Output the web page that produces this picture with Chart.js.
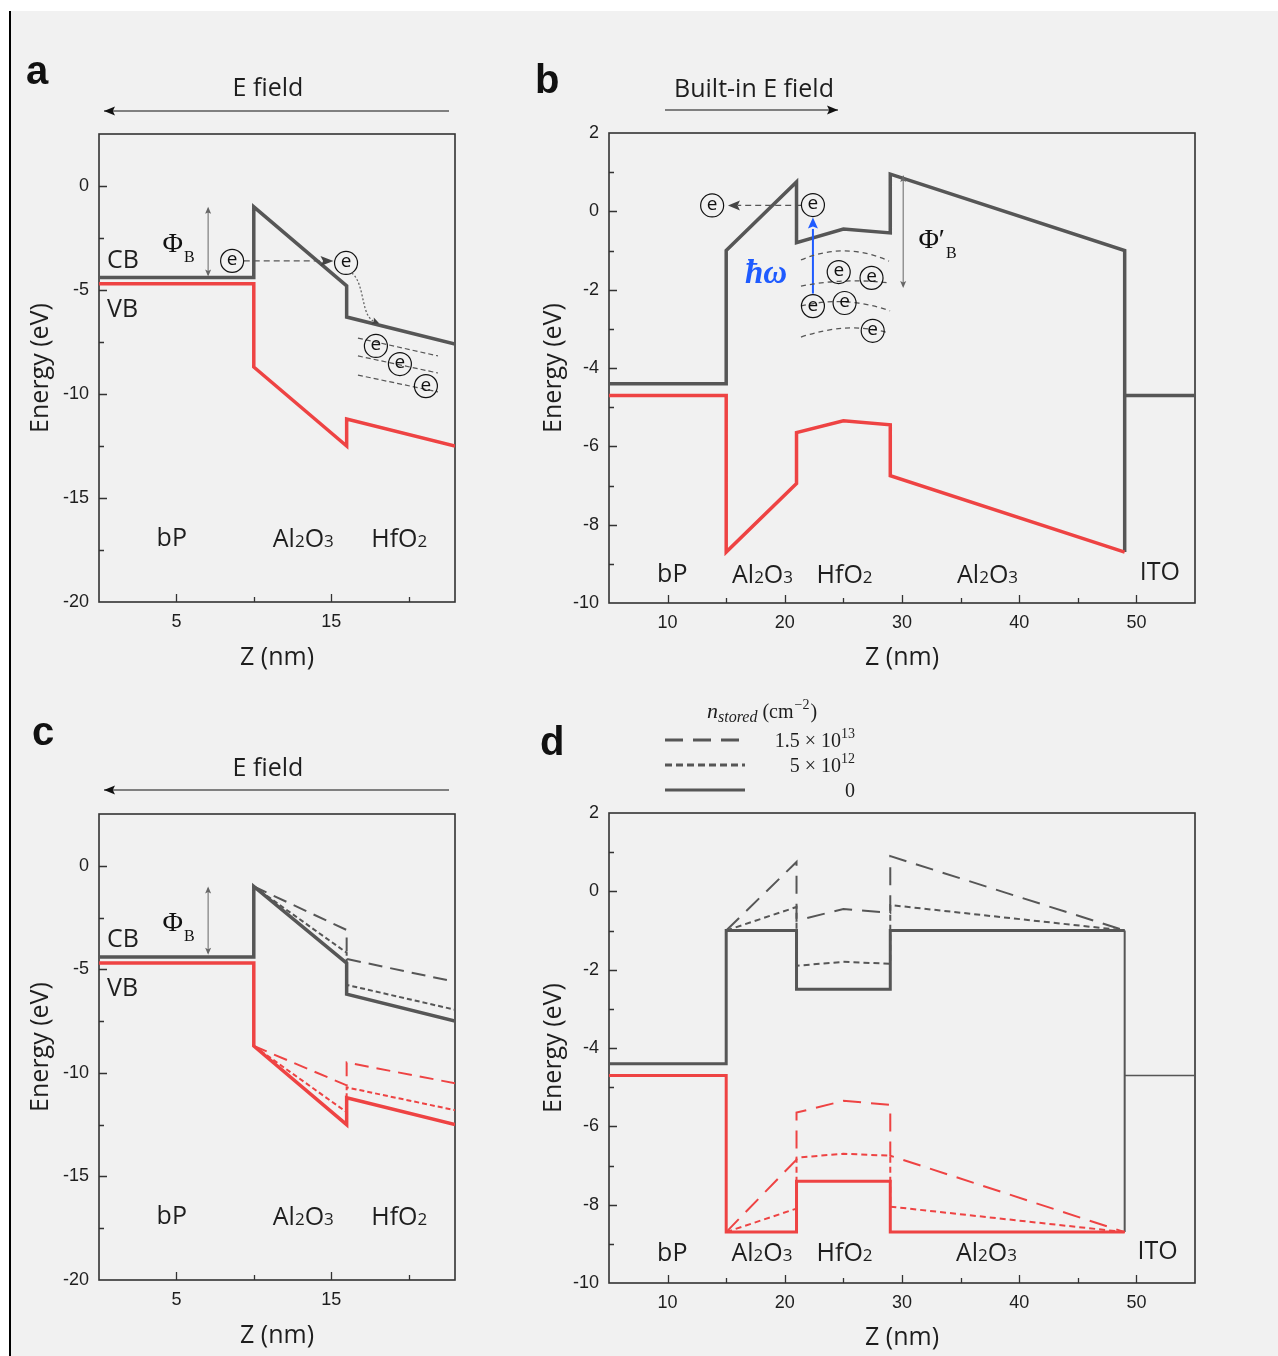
<!DOCTYPE html>
<html>
<head>
<meta charset="utf-8">
<script src="https://cdn.jsdelivr.net/npm/chart.js@4.4.1/dist/chart.umd.min.js"></script>
<style>
  body { margin: 0; background: #fff; }
  #fig { position: relative; width: 1278px; height: 1356px; overflow: hidden; }
  #bg { position: absolute; left: 11px; top: 11px; right: 0; bottom: 0; background: #f1f1f1; }
  #bar { position: absolute; left: 9px; top: 11px; width: 2px; bottom: 0; background: #000; }
  canvas { position: absolute; }
</style>
</head>
<body>
<div id="fig">
  <div id="bg"></div><div id="bar"></div>
  <canvas id="ca" width="450" height="660" style="left:20px;top:20px"></canvas>
  <canvas id="cb" width="680" height="660" style="left:530px;top:20px"></canvas>
  <canvas id="cc" width="450" height="666" style="left:20px;top:690px"></canvas>
  <canvas id="cd" width="680" height="666" style="left:530px;top:690px"></canvas>
</div>
<script>
// ---- data (Z in nm, energy in eV) ----
// a: bP / Al2O3 / HfO2 under applied field
const zA = [0, 10, 10, 16, 16, 23];
const cbA = [-4.4, -4.4, -1.0, -4.8, -6.3, -7.6];
const vbA = [-4.7, -4.7, -8.7, -12.5, -11.2, -12.5];

// c: same stack, with stored charge
const cbC0 = [-4.4, -4.4, -1.0, -4.7, -6.2, -7.5];
const vbC0 = [-4.7, -4.7, -8.7, -12.5, -11.2, -12.5];
const zCq = [10, 16, 16, 23];
const cbC1 = [-1.0, -3.1, -4.5, -5.6];
const cbC2 = [-1.0, -4.2, -5.75, -6.95];
const vbC1 = [-8.7, -10.6, -9.5, -10.5];
const vbC2 = [-8.7, -11.9, -10.7, -11.8];

// b: bP / Al2O3 / HfO2 / Al2O3 / ITO, built-in field
const zBcb = [5, 15, 15, 21, 21, 25, 29, 29, 49, 49];
const cbB = [-4.4, -4.4, -1.0, 0.75, -0.8, -0.45, -0.55, 0.95, -1.0, -8.7];
const zBvb = [5, 15, 15, 21, 21, 25, 29, 29, 49];
const vbB = [-4.7, -4.7, -8.7, -6.95, -5.65, -5.35, -5.45, -6.75, -8.7];
const zIto = [49, 55];
const eIto = [-4.7, -4.7];

// d: flat-band vs stored charge density
const zD0 = [5, 15, 15, 21, 21, 29, 29, 49];
const cbD0 = [-4.4, -4.4, -1.0, -1.0, -2.5, -2.5, -1.0, -1.0];
const vbD0 = [-4.7, -4.7, -8.7, -8.7, -7.4, -7.4, -8.7, -8.7];
const zDq = [15, 21, 21, 25, 29, 29, 49];
const cbD1 = [-1.0, 0.75, -0.75, -0.45, -0.55, 0.9, -1.0];
const cbD2 = [-1.0, -0.4, -1.9, -1.8, -1.85, -0.35, -1.0];
const vbD1 = [-8.7, -6.85, -5.65, -5.35, -5.45, -6.75, -8.7];
const vbD2 = [-8.7, -8.1, -6.8, -6.7, -6.75, -8.05, -8.7];
const zDedge = [49, 49];
const eDedge = [-1.0, -8.7];

const nLabels = ['1.5 × 10', '5 × 10', '0'];
const nExp = ['13', '12', ''];

// tick labels
const ticksAx = [5, 15];
const ticksAy = [0, -5, -10, -15, -20];
const ticksBx = [10, 20, 30, 40, 50];
const ticksBy = [2, 0, -2, -4, -6, -8, -10];

const GRAY = '#565656', RED = '#ee4343', TXT = '#1e1e1e';
const SANS = '"Open Sans", "DejaVu Sans", sans-serif';
const SERIF = '"Liberation Serif", "DejaVu Serif", serif';

function ds(z, e, color, width, dash) {
  return {
    data: z.map((v, i) => ({ x: v, y: e[i] })),
    borderColor: color, borderWidth: width, borderDash: dash || [],
    pointRadius: 0, tension: 0, fill: false,
    borderCapStyle: 'butt', borderJoinStyle: 'miter'
  };
}

// box + inward ticks
const frame = {
  id: 'frame',
  beforeDatasetsDraw(chart) {
    const { ctx, chartArea: a, scales: { x, y } } = chart;
    ctx.save();
    ctx.strokeStyle = '#333';
    ctx.lineWidth = 1.6;
    ctx.strokeRect(a.left, a.top, a.right - a.left, a.bottom - a.top);
    ctx.lineWidth = 1.3;
    ctx.beginPath();
    x.ticks.forEach(t => {
      if (t.value <= x.min || t.value >= x.max) return;
      const p = Math.round(x.getPixelForValue(t.value)) + 0.5, L = t.label ? 8 : 5;
      ctx.moveTo(p, a.bottom); ctx.lineTo(p, a.bottom - L);
    });
    y.ticks.forEach(t => {
      if (t.value <= y.min || t.value >= y.max) return;
      const p = Math.round(y.getPixelForValue(t.value)) + 0.5, L = t.label ? 8 : 5;
      ctx.moveTo(a.left, p); ctx.lineTo(a.left + L, p);
    });
    ctx.stroke();
    ctx.restore();
  }
};

function makeChart(id, sets, o, ann) {
  new Chart(document.getElementById(id), {
    type: 'line',
    data: { datasets: sets },
    options: {
      responsive: false, animation: false,
      layout: { padding: { top: o.pt, right: 15, left: 0, bottom: 0 } },
      plugins: { legend: { display: false }, tooltip: { enabled: false } },
      scales: {
        x: {
          type: 'linear', min: o.xmin, max: o.xmax,
          grid: { display: false, drawTicks: false }, border: { display: false },
          ticks: {
            stepSize: o.xstep, autoSkip: false, includeBounds: false, maxRotation: 0, padding: 9,
            color: TXT, font: { family: '"Liberation Sans", Arial, sans-serif', size: 18 },
            callback: v => o.xlab.includes(v) ? String(v) : ''
          },
          title: { display: true, text: 'Z (nm)', color: TXT, font: { family: SANS, size: 25 }, padding: { top: 0, bottom: o.xtp } },
          afterFit: s => { s.height = o.xh; }
        },
        y: {
          type: 'linear', min: o.ymin, max: o.ymax,
          grid: { display: false, drawTicks: false }, border: { display: false },
          ticks: {
            stepSize: o.ystep, autoSkip: false, includeBounds: false, padding: 10,
            color: TXT, font: { family: '"Liberation Sans", Arial, sans-serif', size: 18 },
            callback: v => o.ylab.includes(v) ? String(v) : ''
          },
          title: { display: true, text: 'Energy (eV)', color: TXT, font: { family: SANS, size: 25 }, padding: { top: o.ytp, bottom: 0 } },
          afterFit: s => { s.width = 79; }
        }
      }
    },
    plugins: [frame, { id: 'ann', afterDatasetsDraw: ann }]
  });
}

// ---- drawing helpers ----
function tools(ch) {
  const X = v => ch.scales.x.getPixelForValue(v);
  const Y = v => ch.scales.y.getPixelForValue(v);
  const ox = ch.canvas.offsetLeft, oy = ch.canvas.offsetTop;
  return { ctx: ch.ctx, X, Y, px: v => v - ox, py: v => v - oy };
}
function head(ctx, x, y, ang, len, hw, color) {
  const c = Math.cos(ang), s = Math.sin(ang);
  ctx.save();
  ctx.fillStyle = color;
  ctx.beginPath();
  ctx.moveTo(x, y);
  ctx.lineTo(x - len * c - hw * s, y - len * s + hw * c);
  ctx.lineTo(x - len * c * 0.8, y - len * s * 0.8);
  ctx.lineTo(x - len * c + hw * s, y - len * s - hw * c);
  ctx.closePath();
  ctx.fill();
  ctx.restore();
}
function eCirc(ctx, x, y) {
  ctx.save();
  ctx.strokeStyle = '#111'; ctx.lineWidth = 1.2;
  ctx.beginPath(); ctx.arc(x, y, 11.5, 0, Math.PI * 2); ctx.stroke();
  ctx.fillStyle = '#111'; ctx.font = '19px ' + SANS;
  ctx.textAlign = 'center'; ctx.textBaseline = 'middle';
  ctx.fillText('e', x, y - 1);
  ctx.restore();
}
function chem(ctx, cx, y, text) {
  const parts = text.match(/[A-Za-z]+|\d+/g).map(p => [p, /\d/.test(p) ? 17 : 25]);
  ctx.save();
  let w = 0;
  parts.forEach(([t, s]) => { ctx.font = s + 'px ' + SANS; w += ctx.measureText(t).width; });
  let x = cx - w / 2;
  ctx.fillStyle = TXT; ctx.textAlign = 'left'; ctx.textBaseline = 'alphabetic';
  parts.forEach(([t, s]) => { ctx.font = s + 'px ' + SANS; ctx.fillText(t, x, y); x += ctx.measureText(t).width; });
  ctx.restore();
}
function text(ctx, s, x, y, font, align, color) {
  ctx.save();
  ctx.font = font; ctx.fillStyle = color || TXT;
  ctx.textAlign = align || 'left'; ctx.textBaseline = 'alphabetic';
  ctx.fillText(s, x, y);
  ctx.restore();
}
function line(ctx, pts, color, width, dash) {
  ctx.save();
  ctx.strokeStyle = color; ctx.lineWidth = width; ctx.setLineDash(dash || []);
  ctx.beginPath();
  pts.forEach((p, i) => i ? ctx.lineTo(p[0], p[1]) : ctx.moveTo(p[0], p[1]));
  ctx.stroke();
  ctx.restore();
}
function curve(ctx, a, m, b, color, dash) {
  // quadratic through a, m, b
  const cx = 2 * m[0] - (a[0] + b[0]) / 2, cy = 2 * m[1] - (a[1] + b[1]) / 2;
  ctx.save();
  ctx.strokeStyle = color; ctx.lineWidth = 1.3; ctx.setLineDash(dash);
  ctx.beginPath(); ctx.moveTo(a[0], a[1]); ctx.quadraticCurveTo(cx, cy, b[0], b[1]); ctx.stroke();
  ctx.restore();
}
function dbl(ctx, x, y1, y2) {
  line(ctx, [[x, y1 + 2], [x, y2 - 2]], '#666', 1);
  head(ctx, x, y1, -Math.PI / 2, 7, 3, '#666');
  head(ctx, x, y2, Math.PI / 2, 7, 3, '#666');
}
function header(t, letter, lx, ly, title, tx, ty, x1, x2, ay) {
  const { ctx, px, py } = t;
  text(ctx, letter, px(lx), py(ly), 'bold 40px "Liberation Sans", Arial, sans-serif', 'left', '#111');
  if (title) {
    text(ctx, title, px(tx), py(ty), '25px ' + SANS, 'center');
    line(ctx, [[px(x1), py(ay)], [px(x2), py(ay)]], '#111', 1.2);
    head(ctx, px(x2), py(ay), x2 < x1 ? Math.PI : 0, 11, 4.5, '#111');
  }
}
function phiB(t, z, e, prime) {
  const { ctx, X, Y } = t;
  ctx.save();
  ctx.font = '28px ' + SERIF; ctx.fillStyle = '#111'; ctx.textAlign = 'left';
  const s = prime ? 'Φ′' : 'Φ';
  ctx.fillText(s, X(z), Y(e));
  const w = ctx.measureText(s).width;
  ctx.font = '16px ' + SERIF;
  ctx.fillText('B', X(z) + w + 1, Y(e) + 10);
  ctx.restore();
}

// ---- panel annotations ----
function annA(ch) {
  const t = tools(ch), { ctx, X, Y } = t;
  header(t, 'a', 26, 84, 'E field', 268, 96, 449, 104, 111);
  text(ctx, 'CB', X(0.52), Y(-3.94), '25px ' + SANS);
  text(ctx, 'VB', X(0.52), Y(-6.3), '25px ' + SANS);
  phiB(t, 4.1, -3.15);
  dbl(ctx, X(7.05), Y(-1.0), Y(-4.35));
  // tunnelling electron
  line(ctx, [[X(9.35), Y(-3.6)], [X(14.5), Y(-3.6)]], '#555', 1.2, [6, 4]);
  head(ctx, X(15.15), Y(-3.6), 0, 13, 5, '#444');
  eCirc(ctx, X(8.6), Y(-3.6));
  eCirc(ctx, X(15.96), Y(-3.7));
  ctx.save();
  ctx.strokeStyle = '#666'; ctx.lineWidth = 1.3; ctx.setLineDash([2, 2]);
  ctx.beginPath();
  ctx.moveTo(X(16.34), Y(-4.18));
  ctx.bezierCurveTo(X(17.25), Y(-4.76), X(16.86), Y(-6.35), X(17.9), Y(-6.55));
  ctx.stroke();
  ctx.restore();
  head(ctx, X(18.1), Y(-6.6), 0.35, 7, 3.5, '#444');
  // trap levels
  line(ctx, [[X(16.73), Y(-7.31)], [X(21.9), Y(-8.17)]], '#555', 1.2, [5, 3]);
  line(ctx, [[X(16.73), Y(-8.17)], [X(21.9), Y(-8.99)]], '#555', 1.2, [5, 3]);
  line(ctx, [[X(16.73), Y(-9.09)], [X(21.9), Y(-9.9)]], '#555', 1.2, [5, 3]);
  eCirc(ctx, X(17.89), Y(-7.69));
  eCirc(ctx, X(19.44), Y(-8.56));
  eCirc(ctx, X(21.12), Y(-9.62));
  text(ctx, 'bP', X(4.7), Y(-17.3), '25px ' + SANS, 'center');
  chem(ctx, X(13.2), Y(-17.35), 'Al2O3');
  chem(ctx, X(19.4), Y(-17.35), 'HfO2');
}

function annB(ch) {
  const t = tools(ch), { ctx, X, Y } = t;
  header(t, 'b', 535, 93, 'Built-in E field', 754, 97, 665, 838, 110);
  // photo-excited electron escaping
  line(ctx, [[X(21.4), Y(0.15)], [X(16.0), Y(0.15)]], '#555', 1.2, [6, 4]);
  head(ctx, X(15.15), Y(0.15), Math.PI, 12, 5, '#444');
  eCirc(ctx, X(13.8), Y(0.15));
  eCirc(ctx, X(22.4), Y(0.16));
  line(ctx, [[X(22.4), Y(-2.1)], [X(22.4), Y(-0.45)]], '#1f5bff', 2);
  head(ctx, X(22.4), Y(-0.16), -Math.PI / 2, 11, 5, '#1f5bff');
  text(ctx, 'ħω', X(18.4), Y(-1.83), 'bold italic 33px ' + SERIF, 'center', '#1f5bff');
  phiB(t, 31.4, -0.94, true);
  dbl(ctx, X(30.1), Y(0.93), Y(-1.96));
  // trap levels in HfO2
  const tc = '#555', td = [5, 4];
  curve(ctx, [X(21.38), Y(-1.24)], [X(25.14), Y(-1.01)], [X(28.89), Y(-1.27)], tc, td);
  curve(ctx, [X(21.38), Y(-1.91)], [X(25.14), Y(-1.78)], [X(28.98), Y(-1.83)], tc, td);
  curve(ctx, [X(21.38), Y(-2.42)], [X(25.14), Y(-2.31)], [X(28.98), Y(-2.54)], tc, td);
  curve(ctx, [X(21.38), Y(-3.21)], [X(25.3), Y(-2.98)], [X(28.9), Y(-3.11)], tc, td);
  eCirc(ctx, X(24.6), Y(-1.55));
  eCirc(ctx, X(27.4), Y(-1.7));
  eCirc(ctx, X(22.4), Y(-2.42));
  eCirc(ctx, X(25.1), Y(-2.34));
  eCirc(ctx, X(27.5), Y(-3.05));
  text(ctx, 'bP', X(10.4), Y(-9.47), '25px ' + SANS, 'center');
  chem(ctx, X(18.1), Y(-9.49), 'Al2O3');
  chem(ctx, X(25.1), Y(-9.49), 'HfO2');
  chem(ctx, X(37.3), Y(-9.49), 'Al2O3');
  text(ctx, 'ITO', X(52.0), Y(-9.42), '25px ' + SANS, 'center');
}

function annC(ch) {
  const t = tools(ch), { ctx, X, Y } = t;
  header(t, 'c', 32, 745, 'E field', 268, 776, 449, 104, 790);
  text(ctx, 'CB', X(0.52), Y(-3.91), '25px ' + SANS);
  text(ctx, 'VB', X(0.52), Y(-6.3), '25px ' + SANS);
  phiB(t, 4.1, -3.15);
  dbl(ctx, X(7.05), Y(-1.0), Y(-4.3));
  text(ctx, 'bP', X(4.7), Y(-17.3), '25px ' + SANS, 'center');
  chem(ctx, X(13.2), Y(-17.35), 'Al2O3');
  chem(ctx, X(19.4), Y(-17.35), 'HfO2');
}

function annD(ch) {
  const t = tools(ch), { ctx, X, Y, px, py } = t;
  header(t, 'd', 540, 755);
  // legend
  ctx.save();
  ctx.fillStyle = TXT; ctx.textBaseline = 'alphabetic'; ctx.textAlign = 'left';
  let x = px(707);
  ctx.font = 'italic 22px ' + SERIF; ctx.fillText('n', x, py(718)); x += ctx.measureText('n').width;
  ctx.font = 'italic 16px ' + SERIF; ctx.fillText('stored', x, py(722)); x += ctx.measureText('stored').width + 5;
  ctx.font = '20px ' + SERIF; ctx.fillText('(cm', x, py(718)); x += ctx.measureText('(cm').width;
  ctx.font = '14px ' + SERIF; ctx.fillText('−2', x + 1, py(709)); x += ctx.measureText('−2').width + 2;
  ctx.font = '20px ' + SERIF; ctx.fillText(')', x, py(718));
  ctx.restore();
  const dashes = [[18, 10], [7, 4], []];
  const ys = [740, 765, 790];
  dashes.forEach((d, i) => {
    line(ctx, [[px(665), py(ys[i])], [px(745), py(ys[i])]], GRAY, 3, d);
    ctx.save();
    ctx.fillStyle = TXT; ctx.textBaseline = 'alphabetic';
    ctx.font = '14px ' + SERIF; ctx.textAlign = 'right';
    const ew = ctx.measureText(nExp[i]).width;
    ctx.fillText(nExp[i], px(855), py(ys[i] - 2));
    ctx.font = '20px ' + SERIF;
    ctx.fillText(nLabels[i], px(855) - ew, py(ys[i] + 7));
    ctx.restore();
  });
  text(ctx, 'bP', X(10.4), Y(-9.43), '25px ' + SANS, 'center');
  chem(ctx, X(18.05), Y(-9.45), 'Al2O3');
  chem(ctx, X(25.1), Y(-9.45), 'HfO2');
  chem(ctx, X(37.2), Y(-9.45), 'Al2O3');
  text(ctx, 'ITO', X(51.8), Y(-9.38), '25px ' + SANS, 'center');
}

// ---- charts ----
const optAC = { xmin: 0, xmax: 23, xstep: 5, ymin: -20, ymax: 2.5, ystep: 2.5, xlab: ticksAx, ylab: ticksAy, ytp: 6 };
const optBD = { xmin: 5, xmax: 55, xstep: 5, ymin: -10, ymax: 2, ystep: 1, xlab: ticksBx, ylab: ticksBy, ytp: 9 };

makeChart('ca', [
  ds(zA, vbA, RED, 3.5), ds(zA, cbA, GRAY, 3.5)
], Object.assign({}, optAC, { pt: 114, xh: 78, xtp: 7 }), annA);

makeChart('cb', [
  ds(zBvb, vbB, RED, 3.5), ds(zBcb, cbB, GRAY, 3.5), ds(zIto, eIto, GRAY, 3.5)
], Object.assign({}, optBD, { pt: 113, xh: 77, xtp: 7 }), annB);

makeChart('cc', [
  ds(zCq, vbC1, RED, 2, [14, 8]), ds(zCq, vbC2, RED, 2, [5, 3]),
  ds(zCq, cbC1, GRAY, 2, [14, 8]), ds(zCq, cbC2, GRAY, 2, [5, 3]),
  ds(zA, vbC0, RED, 3.5), ds(zA, cbC0, GRAY, 3.5)
], Object.assign({}, optAC, { pt: 124, xh: 76, xtp: 5 }), annC);

makeChart('cd', [
  ds(zDq, vbD1, RED, 2, [18, 10]), ds(zDq, vbD2, RED, 2, [6, 4]),
  ds(zDq, cbD1, GRAY, 2, [18, 10]), ds(zDq, cbD2, GRAY, 2, [6, 4]),
  ds(zD0, vbD0, RED, 3), ds(zD0, cbD0, GRAY, 3),
  ds(zDedge, eDedge, GRAY, 2), ds(zIto, eIto, GRAY, 1.5)
], Object.assign({}, optBD, { pt: 123, xh: 73, xtp: 3 }), annD);
</script>
</body>
</html>
